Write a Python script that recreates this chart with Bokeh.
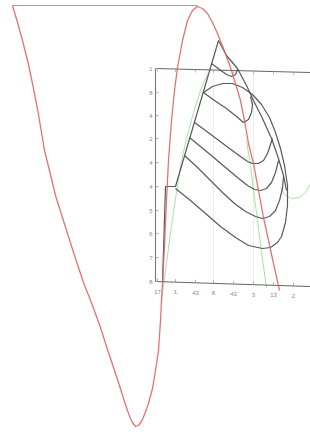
from bokeh.plotting import figure
from bokeh.embed import file_html
from bokeh.resources import INLINE

# ---- data (picture units, y grows downward) ----
# red curve
red_x = [12, 17, 22, 28, 33, 38, 44, 50, 55, 61, 67, 75, 83, 92, 100, 107, 114, 119, 123, 127, 130, 132,
         135, 138, 141, 144, 148, 152, 155, 158, 160, 161, 162, 164, 166, 168, 171, 174, 177, 182, 187,
         192, 197, 202, 207, 212, 217, 223, 230, 235, 240, 244, 248, 253, 258, 263, 268, 273, 279]
red_y = [5, 22, 40, 64, 88, 114, 150, 174, 195, 214, 233, 258, 282, 305, 327, 349, 370, 385, 398, 410, 418, 422,
         426, 425, 421, 414, 403, 388, 370, 350, 320, 300, 283, 245, 200, 160, 120, 90, 67, 40, 20,
         10, 6, 8, 13, 22, 33, 48, 67, 83, 100, 120, 143, 163, 190, 217, 240, 263, 290]

# top gray line
top_x = [12, 197]
top_y = [5, 5]

# inner frame (left axis, top edge, bottom axis)
left_axis_x = [155, 155]
left_axis_y = [68, 281]
top_edge_x = [155, 310]
top_edge_y = [68, 72]
bottom_axis_x = [155, 310]
bottom_axis_y = [281, 286]

# tick labels
ytick_y = [68, 92, 115, 138, 162, 186, 210, 233, 257, 281]
ytick_labels = ["1", "8", "4", "2", "4", "4", "5", "6", "7", "8"]
xtick_x = [157, 175, 195, 213, 233, 253, 273, 293]
xtick_labels = ["17", "1", "43", "8", "43", "3", "13", "2"]

# faint grid lines
grid_x = [213, 253]

# dark curves
frame_x = [162, 165, 175, 218]
frame_y = [282, 186, 186, 40]
spike_x = [218, 226, 237, 246, 253, 262, 271, 278, 283, 286]
spike_y = [40, 55, 68, 85, 100, 118, 138, 158, 175, 190]
loop_x = [203, 212, 222, 232, 242, 252, 261, 269, 275, 280, 284, 287, 287, 285, 281, 277, 270, 262,
          248, 235, 220, 205, 190, 175]
loop_y = [92, 86, 83, 83, 87, 94, 104, 117, 132, 148, 165, 185, 205, 222, 236, 242, 247, 248,
          245, 237, 226, 213, 200, 188]
mini_x = [211, 219, 226, 231, 235, 237]
mini_y = [63, 69, 74, 76, 74, 69]
a_x = [203, 214, 226, 236, 243, 248, 251, 252, 250]
a_y = [92, 100, 108, 116, 122, 119, 112, 104, 96]
b_x = [194, 205, 217, 229, 240, 247, 252, 258, 263, 267, 270, 272]
b_y = [122, 130, 139, 148, 156, 161, 163, 163, 160, 153, 144, 138]
c_x = [189, 200, 212, 225, 237, 247, 254, 260, 266, 271, 275, 278]
c_y = [137, 146, 156, 167, 177, 185, 189, 190, 188, 182, 172, 160]
d_x = [184, 196, 210, 222, 234, 245, 255, 262, 269, 275, 279, 282, 283]
d_y = [155, 166, 180, 192, 203, 211, 216, 218, 216, 210, 200, 188, 176]

# green curves
g1_x = [161, 163, 167, 171, 176, 180, 186, 193, 200, 207]
g1_y = [300, 285, 255, 225, 192, 165, 138, 112, 90, 73]
g2_x = [246, 250, 253, 257, 261, 266]
g2_y = [140, 165, 190, 220, 252, 287]
g3_x = [280, 284, 291, 299, 305, 310]
g3_y = [187, 194, 198, 197, 192, 183]

p = figure(width=310, height=435, x_range=(0, 310), y_range=(435, 0),
           output_backend="svg", toolbar_location=None, min_border=0,
           x_axis_type=None, y_axis_type=None)
p.grid.visible = False
p.outline_line_color = None
p.background_fill_color = "white"

# faint grid
for gx in grid_x:
    yt = top_edge_y[0] + (gx - top_edge_x[0]) * (top_edge_y[1] - top_edge_y[0]) / (top_edge_x[1] - top_edge_x[0])
    yb = bottom_axis_y[0] + (gx - bottom_axis_x[0]) * (bottom_axis_y[1] - bottom_axis_y[0]) / (bottom_axis_x[1] - bottom_axis_x[0])
    p.line([gx, gx], [yt, yb], line_color="#e8eee8", line_width=1)

# green
for gx_, gy_ in [(g1_x, g1_y), (g2_x, g2_y), (g3_x, g3_y)]:
    p.line(gx_, gy_, line_color="#a8e0a8", line_width=1)

# frame
p.line(top_x, top_y, line_color="#a0a0a0", line_width=1.2)
p.line(left_axis_x, left_axis_y, line_color="#777777", line_width=1.1)
p.line(top_edge_x, top_edge_y, line_color="#666666", line_width=1.2)
p.line(bottom_axis_x, bottom_axis_y, line_color="#666666", line_width=1.2)

# ticks
p.segment(x0=[left_axis_x[0]] * len(ytick_y), y0=ytick_y,
          x1=[left_axis_x[0] + 3] * len(ytick_y), y1=ytick_y,
          line_color="#999999", line_width=0.8)
sl_b = (bottom_axis_y[1] - bottom_axis_y[0]) / (bottom_axis_x[1] - bottom_axis_x[0])
sl_t = (top_edge_y[1] - top_edge_y[0]) / (top_edge_x[1] - top_edge_x[0])
xb = [bottom_axis_y[0] + (x - bottom_axis_x[0]) * sl_b for x in xtick_x]
xt = [top_edge_y[0] + (x - top_edge_x[0]) * sl_t for x in xtick_x]
p.segment(x0=xtick_x, y0=xb, x1=xtick_x, y1=[v - 3 for v in xb], line_color="#999999", line_width=0.8)
p.segment(x0=xtick_x, y0=xt, x1=xtick_x, y1=[v + 3 for v in xt], line_color="#aaaaaa", line_width=0.8)

p.text(x=[left_axis_x[0] - 3] * len(ytick_y), y=ytick_y, text=ytick_labels,
       text_font_size="6px", text_align="right", text_baseline="middle", text_color="#888888")
p.text(x=xtick_x, y=[v + 10 for v in xb], text=xtick_labels,
       text_font_size="6px", text_align="center", text_baseline="middle", text_color="#888888")

# dark curves
for cx, cy in [(frame_x, frame_y), (spike_x, spike_y), (loop_x, loop_y), (mini_x, mini_y),
               (a_x, a_y), (b_x, b_y), (c_x, c_y), (d_x, d_y)]:
    p.line(cx, cy, line_color="#474747", line_width=1.2, line_alpha=0.9, line_join="round")

# red
p.line(red_x, red_y, line_color="#e06464", line_width=1.3, line_alpha=0.9, line_join="round")

open("out.html", "w").write(file_html(p, INLINE))
